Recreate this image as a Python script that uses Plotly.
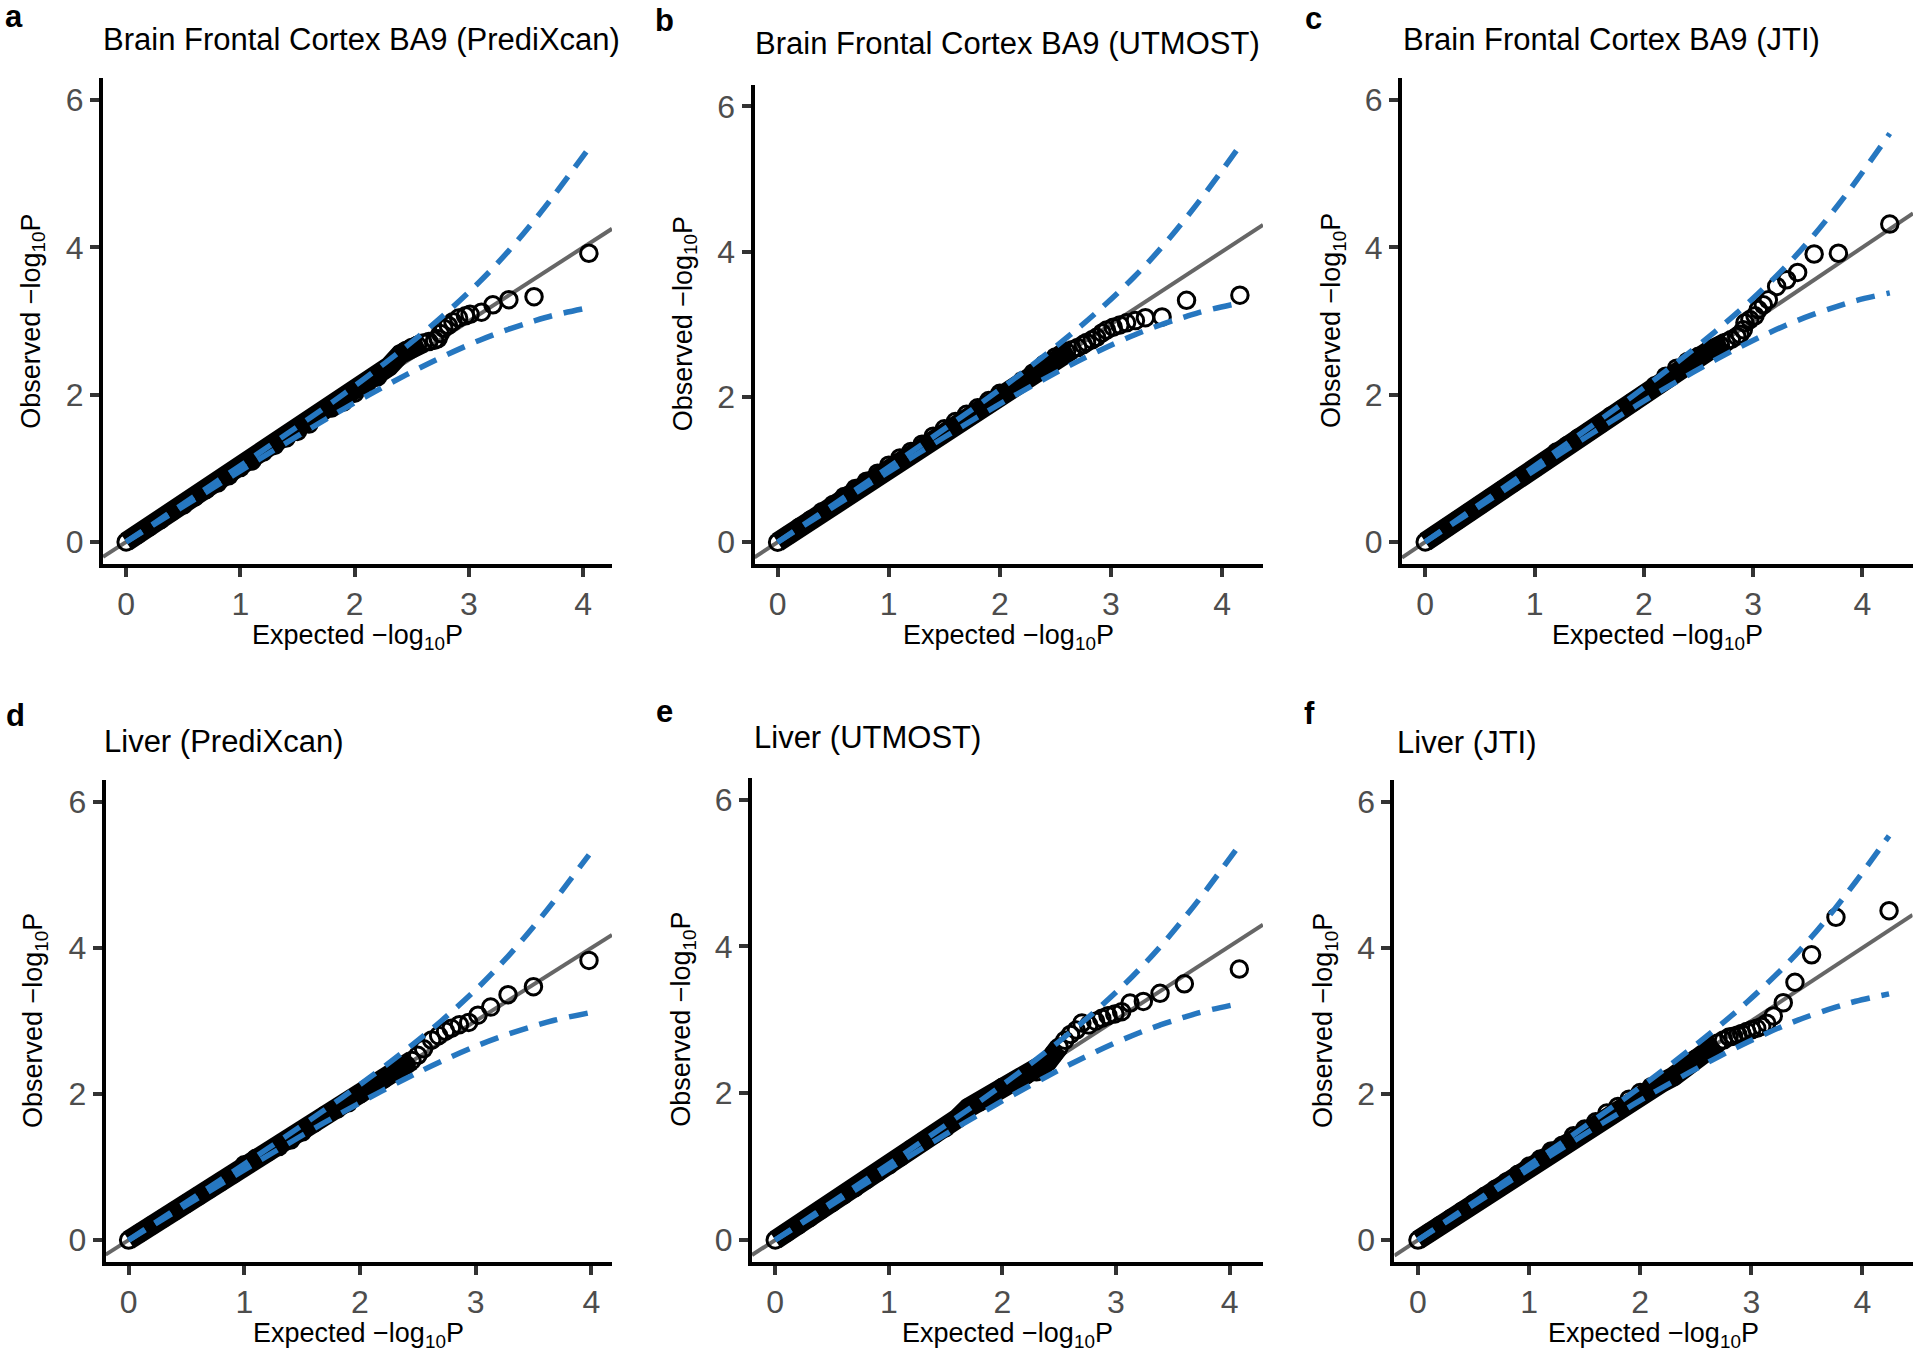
import plotly.graph_objects as go

W, H = 1920, 1354

# ------------------------------------------------------------------ data
TITLES = ["Brain Frontal Cortex BA9 (PrediXcan)", "Brain Frontal Cortex BA9 (UTMOST)",
          "Brain Frontal Cortex BA9 (JTI)", "Liver (PrediXcan)", "Liver (UTMOST)", "Liver (JTI)"]
LETTERS = ["a", "b", "c", "d", "e", "f"]
X_TICKS = [0, 1, 2, 3, 4]
Y_TICKS = [0, 2, 4, 6]
Y_LIMITS = [0, 6]

# dense part of each QQ cloud (expected, observed)
A_DENSE_X = [0.0, 0.1, 0.2, 0.3, 0.4, 0.5, 0.6, 0.7, 0.8, 0.9, 1.0, 1.1, 1.2, 1.3, 1.4, 1.5, 1.6, 1.7, 1.8, 1.9, 2.0, 2.1, 2.2, 2.3, 2.4, 2.45, 2.5, 2.55, 2.6, 2.65, 2.7]
A_DENSE_Y = [0.0, 0.1, 0.2, 0.3, 0.41, 0.5, 0.61, 0.71, 0.8, 0.9, 1.01, 1.1, 1.22, 1.31, 1.41, 1.5, 1.6, 1.74, 1.82, 1.9, 2.02, 2.12, 2.24, 2.38, 2.55, 2.6, 2.64, 2.67, 2.7, 2.72, 2.74]
B_DENSE_X = [0.0, 0.1, 0.2, 0.3, 0.4, 0.5, 0.6, 0.7, 0.8, 0.9, 1.0, 1.1, 1.2, 1.3, 1.4, 1.5, 1.6, 1.7, 1.8, 1.9, 2.0, 2.1, 2.2, 2.3, 2.4, 2.5, 2.55, 2.6, 2.65, 2.7, 2.75]
B_DENSE_Y = [0.0, 0.1, 0.21, 0.31, 0.42, 0.52, 0.63, 0.74, 0.84, 0.95, 1.06, 1.16, 1.25, 1.35, 1.46, 1.56, 1.66, 1.76, 1.85, 1.95, 2.05, 2.1, 2.22, 2.33, 2.45, 2.55, 2.59, 2.62, 2.65, 2.68, 2.72]
C_DENSE_X = [0.0, 0.1, 0.2, 0.3, 0.4, 0.5, 0.6, 0.7, 0.8, 0.9, 1.0, 1.1, 1.2, 1.3, 1.4, 1.5, 1.6, 1.7, 1.8, 1.9, 2.0, 2.1, 2.2, 2.3, 2.4, 2.5, 2.6, 2.7, 2.75, 2.8, 2.85]
C_DENSE_Y = [0.0, 0.1, 0.2, 0.3, 0.4, 0.5, 0.6, 0.7, 0.8, 0.9, 1.0, 1.1, 1.22, 1.31, 1.41, 1.5, 1.6, 1.71, 1.8, 1.9, 2.0, 2.12, 2.25, 2.36, 2.45, 2.52, 2.6, 2.67, 2.71, 2.75, 2.79]
D_DENSE_X = [0.0, 0.1, 0.2, 0.3, 0.4, 0.5, 0.6, 0.7, 0.8, 0.9, 1.0, 1.1, 1.2, 1.3, 1.4, 1.5, 1.6, 1.7, 1.8, 1.9, 2.0, 2.1, 2.2, 2.3, 2.4, 2.45, 2.5, 2.55]
D_DENSE_Y = [0.0, 0.1, 0.2, 0.3, 0.4, 0.5, 0.6, 0.7, 0.8, 0.9, 1.03, 1.12, 1.2, 1.28, 1.37, 1.48, 1.6, 1.71, 1.79, 1.88, 2.0, 2.1, 2.2, 2.3, 2.4, 2.46, 2.53, 2.62]
E_DENSE_X = [0.0, 0.1, 0.2, 0.3, 0.4, 0.5, 0.6, 0.7, 0.8, 0.9, 1.0, 1.1, 1.2, 1.3, 1.4, 1.5, 1.6, 1.7, 1.8, 1.9, 2.0, 2.1, 2.2, 2.3, 2.35, 2.4, 2.45, 2.5, 2.55, 2.6]
E_DENSE_Y = [0.0, 0.1, 0.2, 0.3, 0.41, 0.51, 0.61, 0.71, 0.82, 0.92, 1.02, 1.13, 1.24, 1.34, 1.44, 1.53, 1.65, 1.8, 1.88, 1.97, 2.08, 2.16, 2.24, 2.29, 2.34, 2.43, 2.53, 2.63, 2.72, 2.8]
F_DENSE_X = [0.0, 0.1, 0.2, 0.3, 0.4, 0.5, 0.6, 0.7, 0.8, 0.9, 1.0, 1.1, 1.2, 1.3, 1.4, 1.5, 1.6, 1.7, 1.8, 1.9, 2.0, 2.1, 2.2, 2.3, 2.4, 2.5, 2.6, 2.7, 2.75, 2.8]
F_DENSE_Y = [0.0, 0.1, 0.2, 0.3, 0.4, 0.5, 0.6, 0.7, 0.8, 0.9, 1.01, 1.11, 1.22, 1.3, 1.43, 1.52, 1.62, 1.74, 1.83, 1.93, 2.02, 2.1, 2.16, 2.24, 2.36, 2.48, 2.6, 2.7, 2.74, 2.78]

# sparse upper tail (individually visible circles)
A_TAIL_X = [2.73, 2.75, 2.78, 2.82, 2.86, 2.91, 2.97, 3.01, 3.11, 3.21, 3.35, 3.57, 4.05]
A_TAIL_Y = [2.76, 2.83, 2.90, 2.94, 2.99, 3.04, 3.07, 3.09, 3.12, 3.22, 3.29, 3.33, 3.92]
B_TAIL_X = [2.78, 2.83, 2.87, 2.92, 2.96, 3.02, 3.08, 3.14, 3.22, 3.31, 3.46, 3.68, 4.16]
B_TAIL_Y = [2.75, 2.785, 2.82, 2.88, 2.92, 2.96, 2.99, 3.02, 3.05, 3.09, 3.10, 3.33, 3.40]
C_TAIL_X = [2.88, 2.91, 2.925, 2.97, 3.017, 3.047, 3.093, 3.139, 3.215, 3.307, 3.407, 3.558, 3.78, 4.25]
C_TAIL_Y = [2.82, 2.88, 2.975, 3.02, 3.07, 3.155, 3.22, 3.29, 3.47, 3.56, 3.66, 3.91, 3.92, 4.317]
D_TAIL_X = [2.62, 2.68, 2.74, 2.79, 2.86, 2.94, 3.02, 3.13, 3.28, 3.50, 3.98]
D_TAIL_Y = [2.74, 2.80, 2.86, 2.90, 2.95, 2.98, 3.08, 3.19, 3.36, 3.47, 3.83]
E_TAIL_X = [2.65, 2.70, 2.76, 2.82, 2.875, 2.93, 2.99, 3.05, 3.124, 3.241, 3.388, 3.602, 4.086]
E_TAIL_Y = [2.86, 2.955, 2.93, 2.98, 3.02, 3.055, 3.08, 3.11, 3.227, 3.25, 3.36, 3.49, 3.69]
F_TAIL_X = [2.84, 2.88, 2.914, 2.959, 3.004, 3.049, 3.094, 3.139, 3.198, 3.288, 3.393, 3.543, 3.762, 4.24]
F_TAIL_Y = [2.79, 2.81, 2.83, 2.855, 2.88, 2.90, 2.925, 2.97, 3.07, 3.25, 3.53, 3.906, 4.42, 4.51]

# 95% confidence band (expected, upper, lower)
A_BAND_X = [0.0, 0.75, 1.27, 1.75, 2.05, 2.45, 2.77, 3.10, 3.35, 3.57, 3.75, 4.05]
A_BAND_UP = [0.0, 0.777, 1.32, 1.837, 2.175, 2.653, 3.067, 3.543, 3.956, 4.362, 4.717, 5.346]
A_BAND_LO = [0.0, 0.723, 1.222, 1.667, 1.933, 2.268, 2.515, 2.743, 2.889, 3.0, 3.08, 3.182]
B_BAND_X = [0.0, 0.86, 1.38, 1.86, 2.16, 2.56, 2.88, 3.21, 3.46, 3.68, 3.86, 4.16]
B_BAND_UP = [0.0, 0.887, 1.43, 1.947, 2.285, 2.763, 3.177, 3.653, 4.066, 4.472, 4.827, 5.456]
B_BAND_LO = [0.0, 0.833, 1.332, 1.777, 2.043, 2.378, 2.625, 2.853, 2.999, 3.11, 3.19, 3.292]
C_BAND_X = [0.0, 0.95, 1.47, 1.95, 2.25, 2.65, 2.97, 3.30, 3.55, 3.77, 3.95, 4.25]
C_BAND_UP = [0.0, 0.977, 1.52, 2.037, 2.375, 2.853, 3.267, 3.743, 4.156, 4.562, 4.917, 5.546]
C_BAND_LO = [0.0, 0.923, 1.422, 1.867, 2.133, 2.468, 2.715, 2.943, 3.089, 3.20, 3.28, 3.382]
D_BAND_X = [0.0, 0.68, 1.20, 1.68, 1.98, 2.38, 2.70, 3.03, 3.28, 3.50, 3.68, 3.98]
D_BAND_UP = [0.0, 0.707, 1.25, 1.767, 2.105, 2.583, 2.997, 3.473, 3.886, 4.292, 4.647, 5.276]
D_BAND_LO = [0.0, 0.653, 1.152, 1.597, 1.863, 2.198, 2.445, 2.673, 2.819, 2.93, 3.01, 3.112]
E_BAND_X = [0.0, 0.79, 1.31, 1.79, 2.09, 2.49, 2.81, 3.14, 3.39, 3.61, 3.79, 4.09]
E_BAND_UP = [0.0, 0.817, 1.36, 1.877, 2.215, 2.693, 3.107, 3.583, 3.996, 4.402, 4.757, 5.386]
E_BAND_LO = [0.0, 0.763, 1.262, 1.707, 1.973, 2.308, 2.555, 2.783, 2.929, 3.04, 3.12, 3.222]
F_BAND_X = [0.0, 0.94, 1.46, 1.94, 2.24, 2.64, 2.96, 3.29, 3.54, 3.76, 3.94, 4.24]
F_BAND_UP = [0.0, 0.967, 1.51, 2.027, 2.365, 2.843, 3.257, 3.733, 4.146, 4.552, 4.907, 5.536]
F_BAND_LO = [0.0, 0.913, 1.412, 1.857, 2.123, 2.458, 2.705, 2.933, 3.079, 3.19, 3.27, 3.372]

DENSE = [(A_DENSE_X, A_DENSE_Y), (B_DENSE_X, B_DENSE_Y), (C_DENSE_X, C_DENSE_Y),
         (D_DENSE_X, D_DENSE_Y), (E_DENSE_X, E_DENSE_Y), (F_DENSE_X, F_DENSE_Y)]
TAIL = [(A_TAIL_X, A_TAIL_Y), (B_TAIL_X, B_TAIL_Y), (C_TAIL_X, C_TAIL_Y),
        (D_TAIL_X, D_TAIL_Y), (E_TAIL_X, E_TAIL_Y), (F_TAIL_X, F_TAIL_Y)]
BAND = [(A_BAND_X, A_BAND_UP, A_BAND_LO), (B_BAND_X, B_BAND_UP, B_BAND_LO), (C_BAND_X, C_BAND_UP, C_BAND_LO),
        (D_BAND_X, D_BAND_UP, D_BAND_LO), (E_BAND_X, E_BAND_UP, E_BAND_LO), (F_BAND_X, F_BAND_UP, F_BAND_LO)]

# ------------------------------------------------------------------ layout (pixels)
PANEL_BOX = [  # left, right, top, bottom
    (103, 612, 78, 564),
    (754.5, 1263, 84.5, 564),
    (1402, 1913, 78, 564),
    (105.6, 612, 780, 1262),
    (752, 1263, 777.5, 1262),
    (1394.4, 1912.6, 780, 1262),
]
TITLE_POS = [(101, 39), (753, 43.5), (1401, 39), (102, 741), (752, 737), (1395, 742)]
LETTER_POS = [(14, 17), (664.6, 21), (1313, 18), (15, 715), (664.6, 711), (1309, 713)]
YTITLE_X = [32.8, 685, 1333, 35, 683, 1325]
XTITLE_DY = 73

FONT = "Liberation Sans, Arial, Helvetica, sans-serif"
BLUE = "#2677C0"
GREY = "#666666"


def px(x):
    return x / W


def py(y):
    return 1 - y / H


fig = go.Figure()
annotations = []
layout = {}

for i in range(6):
    k = "" if i == 0 else str(i + 1)
    xa, ya = "x" + k, "y" + k
    left, right, top, bottom = PANEL_BOX[i]
    dx, dy = DENSE[i]
    tx, ty = TAIL[i]
    bx, bup, blo = BAND[i]
    xmax = max(max(dx), max(tx), max(bx))
    xmin = 0.0
    span = xmax - xmin
    xr = [xmin - 0.05 * span, xmax + 0.05 * span]
    yspan = Y_LIMITS[1] - Y_LIMITS[0]
    yr = [Y_LIMITS[0] - 0.05 * yspan, Y_LIMITS[1] + 0.05 * yspan]

    # identity reference line
    fig.add_trace(go.Scatter(x=xr, y=xr, mode="lines", xaxis=xa, yaxis=ya,
                             line=dict(color=GREY, width=4), hoverinfo="skip"))
    # dense cloud body (heavily overlapping circles)
    fig.add_trace(go.Scatter(x=dx[:-2], y=dy[:-2], mode="lines", xaxis=xa, yaxis=ya,
                             line=dict(color="black", width=20), hoverinfo="skip"))
    # points
    fig.add_trace(go.Scatter(x=list(dx) + list(tx), y=list(dy) + list(ty), mode="markers",
                             xaxis=xa, yaxis=ya,
                             marker=dict(symbol="circle", size=16.5, color="rgba(0,0,0,0)",
                                         line=dict(color="black", width=3))))
    # confidence band
    for yy in (bup, blo):
        fig.add_trace(go.Scatter(x=bx, y=yy, mode="lines", xaxis=xa, yaxis=ya,
                                 line=dict(color=BLUE, width=5.5, dash="19px,12px", shape="spline"),
                                 hoverinfo="skip"))

    axis_common = dict(showline=True, linecolor="black", linewidth=4, ticks="outside",
                       ticklen=9, tickwidth=4, tickcolor="#333333", showgrid=False,
                       zeroline=False, tickfont=dict(family=FONT, size=32, color="#4D4D4D"),
                       fixedrange=True)
    layout["xaxis" + k] = dict(domain=[px(left), px(right)], range=xr, tickvals=X_TICKS,
                               anchor=ya, **axis_common)
    layout["yaxis" + k] = dict(domain=[py(bottom), py(top)], range=yr, tickvals=Y_TICKS,
                               anchor=xa, **axis_common)

    annotations.append(dict(text=TITLES[i], x=px(TITLE_POS[i][0]), y=py(TITLE_POS[i][1]),
                            xref="paper", yref="paper", xanchor="left", yanchor="middle",
                            showarrow=False, font=dict(family=FONT, size=31, color="black")))
    annotations.append(dict(text="<b>%s</b>" % LETTERS[i], x=px(LETTER_POS[i][0]), y=py(LETTER_POS[i][1]),
                            xref="paper", yref="paper", xanchor="center", yanchor="middle",
                            showarrow=False, font=dict(family=FONT, size=31, color="black")))
    annotations.append(dict(text="Expected \u2212log<sub>10</sub>P", x=px((left + right) / 2),
                            y=py(bottom + XTITLE_DY), xref="paper", yref="paper",
                            xanchor="center", yanchor="middle", showarrow=False,
                            font=dict(family=FONT, size=27, color="black")))
    annotations.append(dict(text="Observed \u2212log<sub>10</sub>P", x=px(YTITLE_X[i]),
                            y=py((top + bottom) / 2), xref="paper", yref="paper",
                            xanchor="center", yanchor="middle", textangle=-90, showarrow=False,
                            font=dict(family=FONT, size=27, color="black")))

fig.update_layout(width=W, height=H, margin=dict(l=0, r=0, t=0, b=0),
                  paper_bgcolor="white", plot_bgcolor="white", showlegend=False,
                  annotations=annotations, **layout)

fig.write_html("out.html", config={"displayModeBar": False},
               post_script="document.body.style.margin='0';document.body.style.overflow='hidden';")
